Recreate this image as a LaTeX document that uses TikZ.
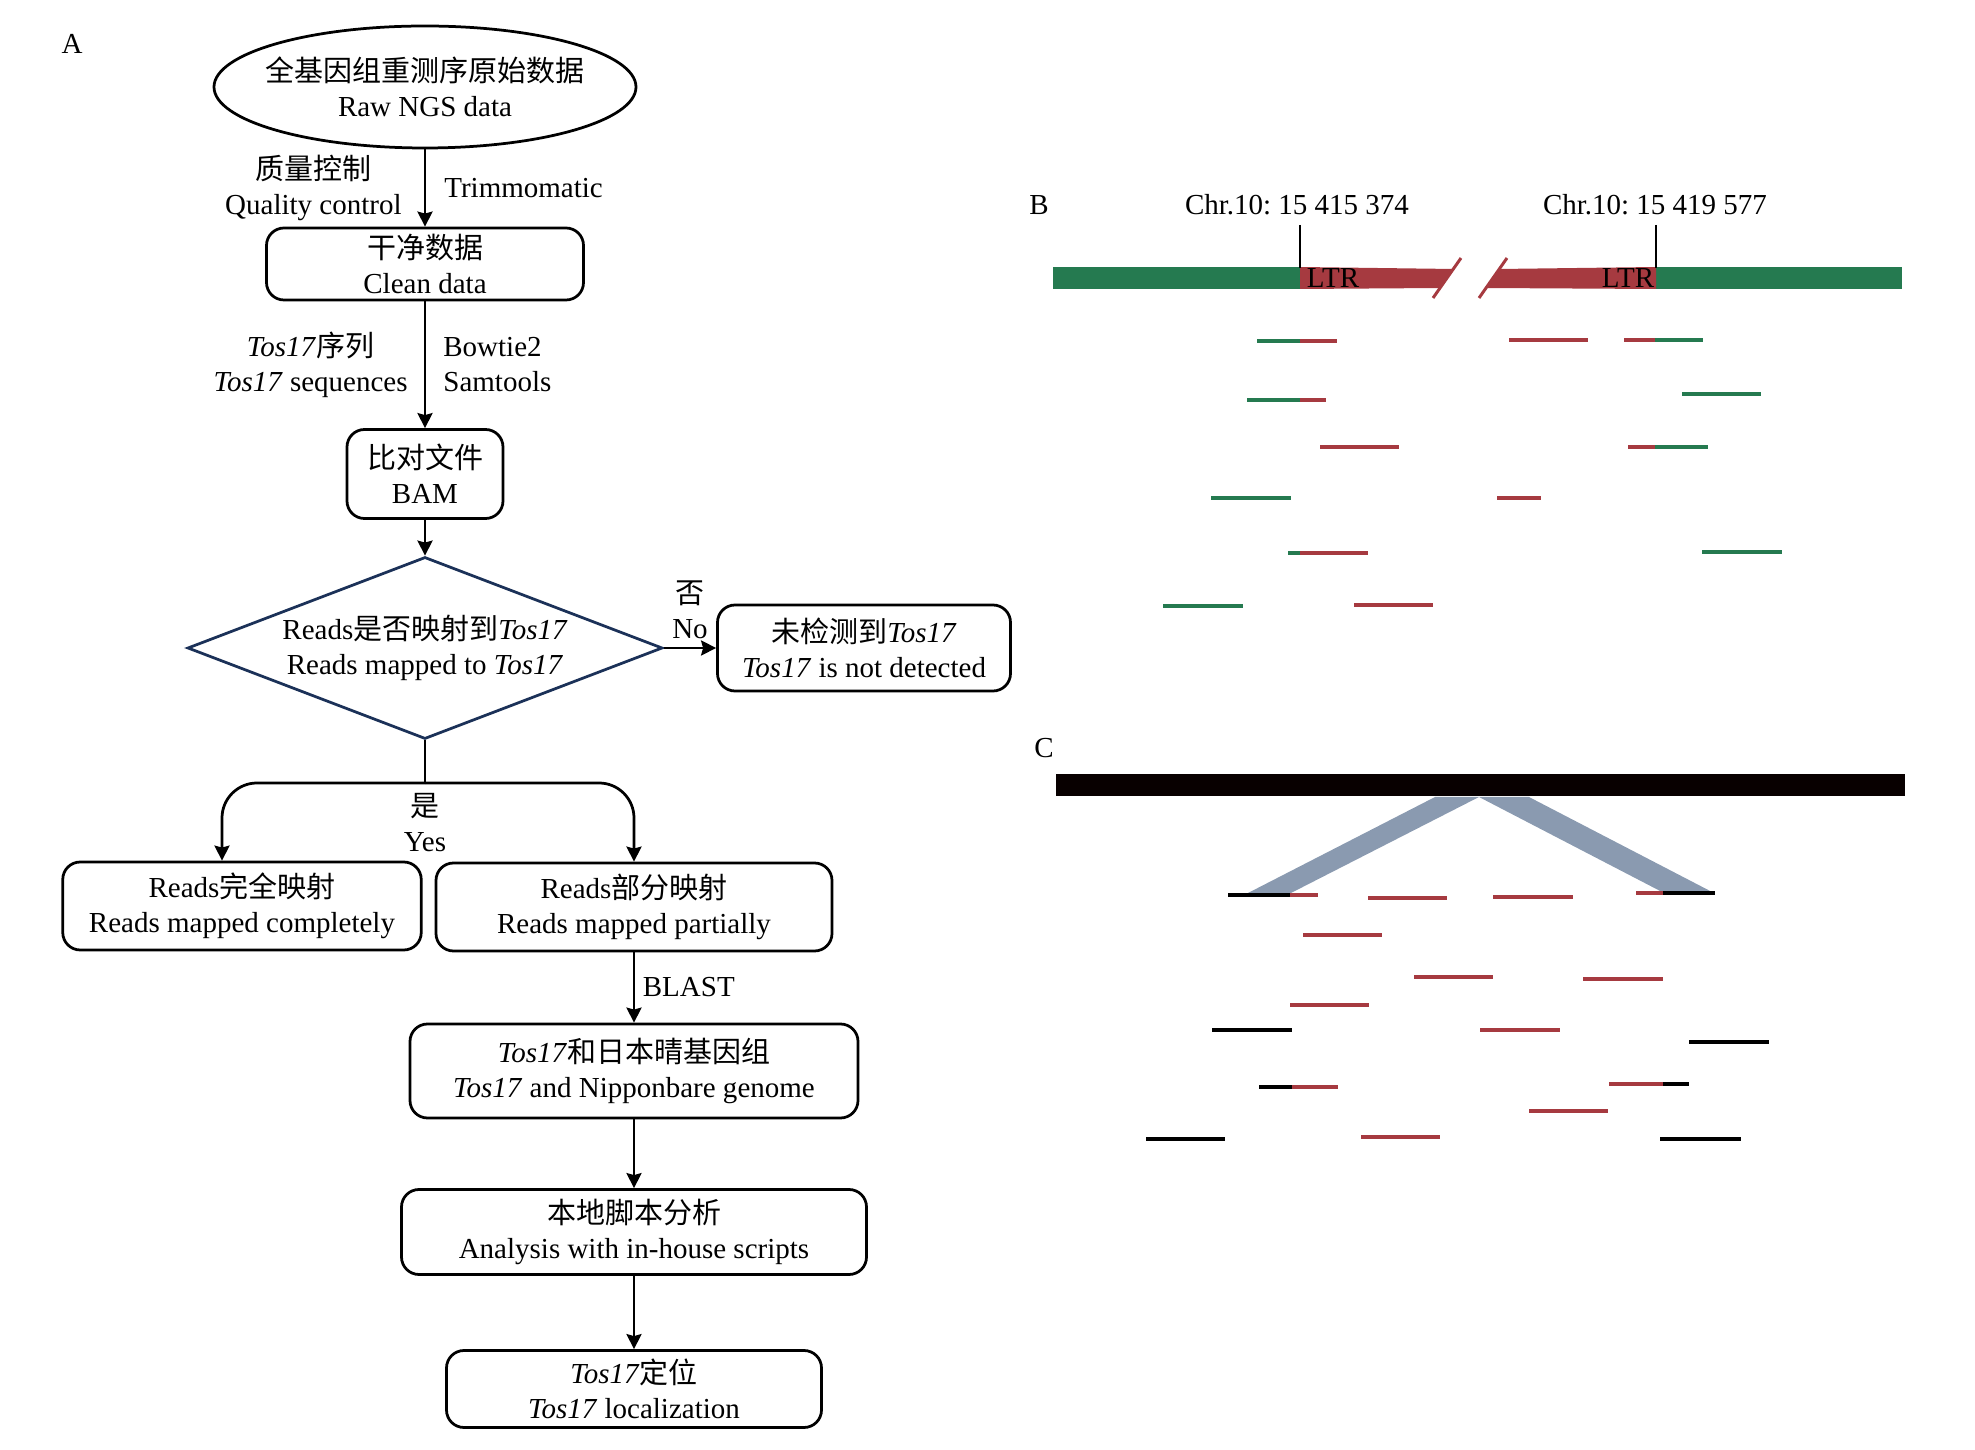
\documentclass[tikz,border=0pt]{standalone}
\usepackage{fontspec}
\setmainfont{Liberation Serif}
\newfontfamily\cjk{Noto Sans CJK SC}
\newcommand{\zh}[1]{{\cjk #1}}
\usetikzlibrary{arrows.meta,shapes.geometric}
\definecolor{chrgreen}{HTML}{257A50}
\definecolor{ltrred}{HTML}{A63A40}
\definecolor{vgrey}{HTML}{8A9AB0}
\definecolor{navy}{HTML}{1B3158}
\frenchspacing

\begin{document}
\begin{tikzpicture}[>={Stealth[length=6pt,width=6pt,inset=0.8pt]}, x=0.4pt, y=-0.4pt, font=\fontsize{11.6}{14}\selectfont,
	box/.style={draw, rounded corners=7pt, line width=1.1pt, align=center, inner sep=0pt},
	lab/.style={inner sep=0pt, align=center},
	flow/.style={->, line width=1.1pt},
	gread/.style={chrgreen, line width=1.3pt},
	rread/.style={ltrred, line width=1.3pt},
	kread/.style={black, line width=1.3pt}]
	\useasboundingbox (0,0) rectangle (1975,1450);

	% Panel A: nodes
	\node (pa) at (72,44) {A};
	\node [draw, ellipse, line width=1.1pt, minimum width=168.8pt, minimum height=48.8pt, inner xsep=-6pt, inner ysep=0pt, align=center]
		(raw) at (425,87) {\zh{全基因组重测序原始数据}\\Raw NGS data};
	\node [box, minimum width=126.8pt, minimum height=28.8pt] (clean) at (425,264) {\zh{干净数据}\\Clean data};
	\node [box, minimum width=62.4pt, minimum height=35.6pt] (bam) at (425,474) {\zh{比对文件}\\BAM};
	\node [diamond, draw=navy, line width=1.1pt, aspect=2.6, minimum width=190pt, minimum height=72.8pt, inner sep=0pt, align=center]
		(dia) at (425,648) {Reads\zh{是否映射到}\textit{Tos17}\\Reads mapped to \textit{Tos17}};
	\node [box, minimum width=117.2pt, minimum height=34.4pt] (notdet) at (864,648) {\zh{未检测到}\textit{Tos17}\\\textit{Tos17} is not detected};
	\coordinate (fork) at (425,783);
	\node [box, minimum width=143.4pt, minimum height=35.2pt] (complete) at (242,906) {Reads\zh{完全映射}\\Reads mapped completely};
	\node [box, minimum width=158.4pt, minimum height=35.2pt] (partial) at (634,907) {Reads\zh{部分映射}\\Reads mapped partially};
	\node [box, minimum width=179.2pt, minimum height=37.6pt] (nippon) at (634,1071) {\textit{Tos17}\zh{和日本晴基因组}\\\textit{Tos17} and Nipponbare genome};
	\node [box, minimum width=186pt, minimum height=34pt] (inhouse) at (634,1232) {\zh{本地脚本分析}\\Analysis with in-house scripts};
	\node [box, minimum width=150pt, minimum height=30.8pt] (local) at (634,1389) {\textit{Tos17}\zh{定位}\\\textit{Tos17} localization};

	% Panel A: paths
	\path [flow] (raw) edge node [lab, left=8.8pt] {\zh{质量控制}\\Quality control} node [lab, right=7.2pt] {Trimmomatic} (clean);
	\path [flow] (clean) edge node [lab, left=6.4pt] {\textit{Tos17}\zh{序列}\\\textit{Tos17} sequences} node [lab, right=6.8pt, align=left] {Bowtie2\\Samtools} (bam);
	\path [flow] (bam) edge (dia);
	\path [flow] (dia) edge node [lab, above=3pt] {\zh{否}\\No} (notdet);
	\draw [line width=1.1pt] (dia.south) -- (fork);
	\node [lab, below=4pt] (yes) at (fork) {\zh{是}\\Yes};
	\draw [flow, rounded corners=14pt] (fork) -| ([xshift=-8pt]complete.north);
	\draw [flow, rounded corners=14pt] (fork) -| (partial.north);
	\path [flow] (partial) edge node [lab, right=3pt] {BLAST} (nippon);
	\path [flow] (nippon) edge (inhouse);
	\path [flow] (inhouse) edge (local);

	% Panel B: chromosome with Tos17 insertion
	\node (pb) at (1039,205) {B};
	\node (chrl) at (1297,205) {Chr.10: 15 415 374};
	\node (chrr) at (1655,205) {Chr.10: 15 419 577};
	\fill [chrgreen] (1053,267) rectangle (1300,289);
	\fill [chrgreen] (1656,267) rectangle (1902,289);
	\fill [ltrred] (1300,267) -- (1454,269) -- (1440,288) -- (1300,289) -- cycle;
	\fill [ltrred] (1499,269) -- (1656,267) -- (1656,289) -- (1486,288) -- cycle;
	\draw [ltrred, line width=1.2pt] (1461,258) -- (1433,298);
	\draw [ltrred, line width=1.2pt] (1507,258) -- (1479,298);
	\draw [line width=1pt] (1300,225) -- (1300,268);
	\draw [line width=1pt] (1656,225) -- (1656,268);
	\node (ltrl) at (1333,278) {LTR};
	\node (ltrr) at (1628,278) {LTR};

	% Panel B: reads
	\foreach \a/\b/\y in {1257/1300/341, 1655/1703/340, 1247/1300/400, 1682/1761/394, 1655/1708/447,
		1211/1291/498, 1288/1300/553, 1702/1782/552, 1163/1243/606}
		\draw [gread] (\a,\y) -- (\b,\y);
	\foreach \a/\b/\y in {1300/1337/341, 1509/1588/340, 1624/1655/340, 1300/1326/400, 1320/1399/447,
		1628/1655/447, 1497/1541/498, 1300/1368/553, 1354/1433/605}
		\draw [rread] (\a,\y) -- (\b,\y);

	% Panel C: reference genome and split reads
	\node (pc) at (1044,748) {C};
	\fill [black!97!red] (1056,774) rectangle (1905,796);
	\fill [vgrey] (1435,797) -- (1479,797) -- (1291,893) -- (1248,893) -- cycle;
	\fill [vgrey] (1479,797) -- (1529,797) -- (1714,893) -- (1664,893) -- cycle;
	\foreach \a/\b/\y in {1228/1290/895, 1663/1715/893, 1212/1292/1030, 1689/1769/1042,
		1259/1292/1087, 1663/1689/1084, 1146/1225/1139, 1660/1741/1139}
		\draw [kread] (\a,\y) -- (\b,\y);
	\foreach \a/\b/\y in {1290/1318/895, 1368/1447/898, 1493/1573/897, 1636/1663/893, 1303/1382/935,
		1414/1493/977, 1583/1663/979, 1290/1369/1005, 1480/1560/1030, 1292/1338/1087,
		1609/1663/1084, 1529/1608/1111, 1361/1440/1137}
		\draw [rread] (\a,\y) -- (\b,\y);
\end{tikzpicture}
\end{document}
